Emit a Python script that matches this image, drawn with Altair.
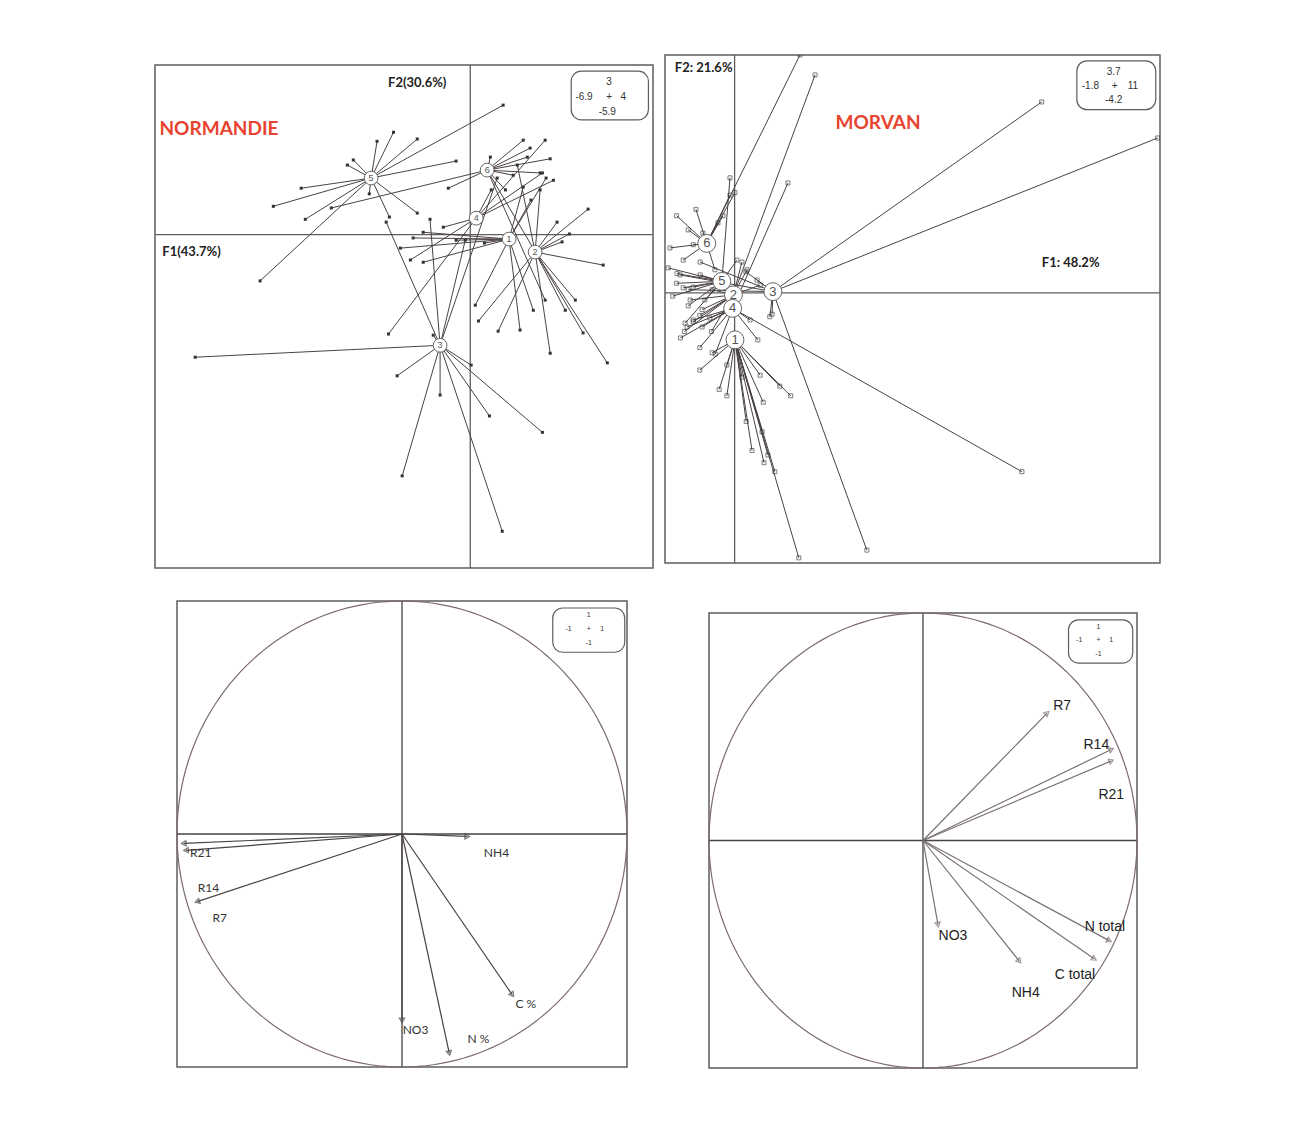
import altair as alt
import pandas as pd

# ======================= NORMANDIE (top-left) =======================
TL_X_DOMAIN = [-6.9, 4.0]
TL_Y_DOMAIN = [-5.9, 3.0]
TL_CENT_ID = ["1", "2", "3", "4", "5", "6"]
TL_CENT_X = [0.85, 1.42, -0.66, 0.13, -2.17, 0.37]
TL_CENT_Y = [-0.08, -0.31, -1.96, 0.29, 1.00, 1.14]

TL_PT_GROUP = (["5"] * 14 + ["6"] * 12 + ["4"] * 7 + ["1"] * 12 + ["2"] * 13 + ["3"] * 13)
TL_PT_X = [
    -1.68, -2.04, -1.16, -2.56, -2.69, -3.70, -4.31, -3.61, -2.21, -1.77, -1.16, -4.60, 0.72, -0.31,
    1.16, 1.31, 1.25, 1.75, 0.44, 0.94, -0.48, -3.04, 1.53, 0.77, 1.64, 2.47,
    1.58, 1.64, 1.82, -0.59, -1.79, 0.46, -1.31,
    -1.03, -1.25, -1.53, -1.03, 1.66, 1.16, 1.38, 1.33, -0.31, 0.11, 1.09, 0.31,
    2.58, 1.90, 2.01, 2.91, 2.17, 1.75, 3.00, 2.08, 0.18, 0.61, 1.53, 1.03, 2.30,
    -6.02, -1.60, -0.66, 0.42, 1.58, -1.49, 0.70, -0.81, 0.02, -1.84, -0.88, -0.11, 0.59,
]
TL_PT_Y = [
    1.81, 1.65, 1.69, 1.32, 1.23, 0.82, 0.50, 0.27, 0.72, 0.31, 0.38, -0.82, 2.29, 1.30,
    1.67, 1.53, 1.37, 1.34, 1.37, 1.05, 0.82, 0.47, 1.09, 0.79, -1.16, -1.74,
    1.09, 1.67, 0.96, 0.13, -1.76, 0.79, -0.45,
    0.04, -0.06, -0.24, -0.49, 1.00, 0.84, -1.34, 0.61, -0.10, -1.25, -1.69, -0.15,
    0.45, 0.22, -0.13, -0.54, 0.01, -2.10, -2.27, -1.34, -1.53, -1.71, 0.79, 1.23, -1.16,
    -2.17, -2.50, -2.84, -3.21, -3.50, -4.27, -5.25, -1.78, -2.31, 0.22, 0.27, -0.10, 1.00,
]
TL_TXT = ["F2(30.6%)", "F1(43.7%)"]
TL_TXT_X = [-1.16, -6.10]
TL_TXT_Y = [2.68, -0.31]
TL_TITLE = ["NORMANDIE"]
TL_TITLE_X = [-5.50]
TL_TITLE_Y = [1.87]
TL_BOX = [2.21, 3.90, 2.89, 2.03]  # x1, x2, y1, y2
TL_BOX_TXT = ["3", "-6.9", "4", "-5.9", "+"]
TL_BOX_TX = [3.04, 2.49, 3.35, 3.00, 3.04]
TL_BOX_TY = [2.70, 2.43, 2.43, 2.17, 2.44]

# ======================= MORVAN (top-right) =======================
TR_X_DOMAIN = [-1.8, 11.0]
TR_Y_DOMAIN = [-4.2, 3.7]
TR_CENT_ID = ["1", "2", "3", "4", "5", "6"]
TR_CENT_X = [0.01, -0.03, 0.99, -0.05, -0.33, -0.72]
TR_CENT_Y = [-0.73, -0.03, 0.02, -0.24, 0.18, 0.77]

TR_PT_GROUP = (["6"] * 13 + ["5"] * 12 + ["2"] * 11 + ["3"] * 10 + ["4"] * 11 + ["1"] * 17)
TR_PT_X = [
    1.69, -1.67, -1.20, -0.82, -0.43, -0.12, -1.33, -1.07, -0.51, 0.01, -1.50, -1.00, -0.30,
    -1.72, -1.33, -1.07, -1.28, -0.12, 0.06, -0.89, -1.49, -0.77, -1.50, -1.60, -1.20,
    2.08, 0.19, 0.32, -1.07, -1.15, -0.84, 0.66, -0.58, -0.90, -1.30, -0.60,
    7.94, 10.94, 3.42, 0.97, 0.91, 0.58, 0.29, -1.20, -1.41, -0.89,
    1.38, 7.43, 0.60, -0.84, -1.07, -1.23, -0.64, 0.40, -1.40, -0.90, -0.50,
    1.66, 1.04, 0.76, 0.71, 0.74, 1.17, 0.66, 0.19, -0.20, -0.58, 0.86, 1.45,
    -0.40, -0.20, 0.30, 0.45, -0.90,
]
TR_PT_Y = [
    3.70, 0.70, 0.98, 0.93, 1.09, 1.52, 0.51, 0.75, 0.36, 1.56, 1.20, 1.30, 1.20,
    0.39, 0.08, 0.09, -0.47, 1.79, 0.51, 0.28, 0.30, -0.11, 0.15, -0.05, -0.20,
    3.39, 0.48, 0.36, -0.45, -0.11, -0.26, 0.12, 0.05, -0.35, -0.60, -0.60,
    2.97, 2.41, -4.00, -0.33, -0.37, 0.20, 0.33, 0.05, 0.28, 0.48,
    1.71, -2.78, -0.73, -0.53, -0.42, -0.53, -0.39, -0.42, -0.70, -0.85, -0.95,
    -4.12, -2.78, -2.64, -2.16, -1.70, -1.45, -1.28, -1.31, -1.12, -0.93, -2.52, -1.60,
    -1.50, -1.60, -2.00, -2.45, -1.20,
]
TR_TXT = ["F2: 21.6%", "F1: 48.2%"]
TR_TXT_X = [-0.80, 8.69]
TR_TXT_Y = [3.50, 0.47]
TR_TITLE = ["MORVAN"]
TR_TITLE_X = [3.71]
TR_TITLE_Y = [2.64]
TR_BOX = [8.85, 10.89, 3.61, 2.85]
TR_BOX_TXT = ["3.7", "-1.8", "11", "-4.2", "+"]
TR_BOX_TX = [9.80, 9.20, 10.30, 9.80, 9.83]
TR_BOX_TY = [3.44, 3.22, 3.22, 3.00, 3.22]

# ======================= Correlation circles =======================
BL_VAR = ["R21", "R14", "R7", "NH4", "NO3", "N %", "C %"]
BL_VX = [-0.97, -0.96, -0.91, 0.29, 0.00, 0.21, 0.49]
BL_VY = [-0.04, -0.07, -0.29, -0.01, -0.80, -0.94, -0.69]
BL_LX = [-0.895, -0.86, -0.81, 0.42, 0.06, 0.34, 0.55]
BL_LY = [-0.08, -0.23, -0.36, -0.08, -0.84, -0.88, -0.73]

BR_VAR = ["R7", "R14", "R21", "NO3", "NH4", "C total", "N total"]
BR_VX = [0.58, 0.88, 0.88, 0.07, 0.45, 0.80, 0.87]
BR_VY = [0.56, 0.40, 0.35, -0.37, -0.53, -0.52, -0.44]
BR_LX = [0.65, 0.81, 0.88, 0.14, 0.48, 0.71, 0.85]
BR_LY = [0.59, 0.42, 0.20, -0.42, -0.67, -0.59, -0.38]

BL_BOX = [0.67, 0.99, 0.97, 0.78]
BR_BOX = [0.68, 0.98, 0.97, 0.78]
UNIT_BOX_TXT = ["1", "-1", "1", "-1", "+"]
BL_BOX_TX = [0.83, 0.74, 0.89, 0.83, 0.83]
BL_BOX_TY = [0.94, 0.88, 0.88, 0.82, 0.88]
BR_BOX_TX = [0.82, 0.73, 0.88, 0.82, 0.82]
BR_BOX_TY = [0.94, 0.88, 0.88, 0.82, 0.88]

FRAME = "#5e5e5e"
LINE = "#4a4242"
RED = "#e8432e"


def scales(xdom, ydom):
    def X(f, **kw):
        return alt.X(f, type="quantitative", axis=None,
                     scale=alt.Scale(domain=xdom, nice=False, zero=False), **kw)

    def Y(f, **kw):
        return alt.Y(f, type="quantitative", axis=None,
                     scale=alt.Scale(domain=ydom, nice=False, zero=False), **kw)
    return X, Y


def axis_lines(X, Y, color):
    zero = pd.DataFrame({"v": [0.0]})
    v = alt.Chart(zero).mark_rule(color=color, strokeWidth=1.3).encode(x=X("v"))
    h = alt.Chart(zero).mark_rule(color=color, strokeWidth=1.3).encode(y=Y("v"))
    return [v, h]


def scale_box(X, Y, box, txt, tx, ty, fsize, font):
    bdf = pd.DataFrame({"x1": [box[0]], "x2": [box[1]], "y1": [box[2]], "y2": [box[3]]})
    rect = alt.Chart(bdf).mark_rect(cornerRadius=10, fill="white", stroke=FRAME,
                                    strokeWidth=1.2).encode(
        x=X("x1"), x2="x2", y=Y("y1"), y2="y2")
    tdf = pd.DataFrame({"t": txt, "x": tx, "y": ty})
    text = alt.Chart(tdf).mark_text(fontSize=fsize, font=font, color="#333",
                                    baseline="middle", align="center").encode(
        x=X("x"), y=Y("y"), text="t:N")
    return [rect, text]


def star_panel(xdom, ydom, w, h, cid, cx, cy, gg, gx, gy, txt, tx, ty,
               title, tix, tiy, box, btxt, btx, bty, hollow, csize, cfont):
    X, Y = scales(xdom, ydom)
    cent = pd.DataFrame({"id": cid, "cx": cx, "cy": cy})
    pts = pd.DataFrame({"id": gg, "x": gx, "y": gy}).merge(cent, on="id")
    layers = axis_lines(X, Y, FRAME)
    layers.append(alt.Chart(pts).mark_rule(color=LINE, strokeWidth=1, clip=True).encode(
        x=X("x"), y=Y("y"), x2="cx", y2="cy"))
    if hollow:
        pm = alt.Chart(pts).mark_square(filled=False, size=16, color="#333",
                                        strokeWidth=0.9, clip=True)
    else:
        pm = alt.Chart(pts).mark_square(filled=True, size=9, color="#333", opacity=1, clip=True)
    layers.append(pm.encode(x=X("x"), y=Y("y")))
    layers.append(alt.Chart(cent).mark_point(shape="circle", filled=True, fill="white",
                                             stroke="#666", strokeWidth=1, size=csize,
                                             opacity=1).encode(x=X("cx"), y=Y("cy")))
    layers.append(alt.Chart(cent).mark_text(fontSize=cfont, font="Liberation Sans",
                                            color="#555", baseline="middle").encode(
        x=X("cx"), y=Y("cy"), text="id:N"))
    tdf = pd.DataFrame({"t": txt, "x": tx, "y": ty})
    layers.append(alt.Chart(tdf).mark_text(fontSize=13, font="Lato", fontWeight="bold",
                                           color="#222", baseline="middle").encode(
        x=X("x"), y=Y("y"), text="t:N"))
    tidf = pd.DataFrame({"t": title, "x": tix, "y": tiy})
    layers.append(alt.Chart(tidf).mark_text(fontSize=19, font="Lato", fontWeight="bold",
                                            color=RED, baseline="middle").encode(
        x=X("x"), y=Y("y"), text="t:N"))
    layers += scale_box(X, Y, box, btxt, btx, bty, 10, "Liberation Sans")
    return alt.layer(*layers).properties(
        width=w, height=h, view=alt.ViewBackground(stroke=FRAME, strokeWidth=1.5))


def circle_panel(w, h, var, vx, vy, lx, ly, box, btx, bty, acolor, font, fsize, tcolor):
    X, Y = scales([-1, 1], [-1, 1])
    layers = axis_lines(X, Y, "#444")
    circ = alt.Chart(alt.sequence(0, 362, 2, as_="a")).transform_calculate(
        cx="cos(datum.a*PI/180)", cy="sin(datum.a*PI/180)").mark_line(
        color="#7d6b6b", strokeWidth=1.2).encode(x=X("cx"), y=Y("cy"), order="a:Q")
    layers.append(circ)
    vdf = pd.DataFrame({"v": var, "x": vx, "y": vy, "lx": lx, "ly": ly, "o": [0.0] * len(var)})
    layers.append(alt.Chart(vdf).mark_rule(color=acolor, strokeWidth=1.2).encode(
        x=X("o"), y=Y("o"), x2="x", y2="y"))
    layers.append(alt.Chart(vdf).transform_calculate(
        ang="(atan2(datum.x, datum.y)*180/PI + 360) % 360").mark_point(
        shape="triangle-up", filled=False, color=acolor, size=28, strokeWidth=1.2).encode(
        x=X("x"), y=Y("y"), angle=alt.Angle("ang:Q", scale=None)))
    layers.append(alt.Chart(vdf).mark_text(font=font, fontSize=fsize, color=tcolor,
                                           baseline="middle").encode(
        x=X("lx"), y=Y("ly"), text="v:N"))
    layers += scale_box(X, Y, box, UNIT_BOX_TXT, btx, bty, 7, "Liberation Sans")
    return alt.layer(*layers).properties(
        width=w, height=h, view=alt.ViewBackground(stroke=FRAME, strokeWidth=1.5))


def spacer(w, h):
    return alt.Chart(pd.DataFrame({"v": [0]})).mark_point(opacity=0, size=0).encode(
        x=alt.value(0), y=alt.value(0)).properties(
        width=w, height=h, view=alt.ViewBackground(stroke="transparent"))


tl = star_panel(TL_X_DOMAIN, TL_Y_DOMAIN, 498, 503, TL_CENT_ID, TL_CENT_X, TL_CENT_Y,
                TL_PT_GROUP, TL_PT_X, TL_PT_Y, TL_TXT, TL_TXT_X, TL_TXT_Y,
                TL_TITLE, TL_TITLE_X, TL_TITLE_Y, TL_BOX, TL_BOX_TXT, TL_BOX_TX, TL_BOX_TY,
                False, 190, 9)
tr = star_panel(TR_X_DOMAIN, TR_Y_DOMAIN, 495, 508, TR_CENT_ID, TR_CENT_X, TR_CENT_Y,
                TR_PT_GROUP, TR_PT_X, TR_PT_Y, TR_TXT, TR_TXT_X, TR_TXT_Y,
                TR_TITLE, TR_TITLE_X, TR_TITLE_Y, TR_BOX, TR_BOX_TXT, TR_BOX_TX, TR_BOX_TY,
                True, 320, 13)
bl = circle_panel(450, 466, BL_VAR, BL_VX, BL_VY, BL_LX, BL_LY, BL_BOX, BL_BOX_TX, BL_BOX_TY,
                  "#4a4242", "Lato", 12, "#333")
br = circle_panel(428, 455, BR_VAR, BR_VX, BR_VY, BR_LX, BR_LY, BR_BOX, BR_BOX_TX, BR_BOX_TY,
                  "#7a7070", "Liberation Sans", 14, "#222")

tl_wrap = alt.vconcat(spacer(1, 1), tl, spacing=6)
br_wrap = alt.vconcat(spacer(1, 1), br, spacing=6)
top_row = alt.hconcat(spacer(135, 1), tl_wrap, tr, spacing=8)
bottom_row = alt.hconcat(spacer(89, 1), bl, br_wrap, spacing=74)

chart = alt.vconcat(top_row, bottom_row, spacing=27).properties(
    padding={"left": 0, "top": 45, "right": 5, "bottom": 5},
    background="white",
).configure_view(stroke="transparent")

chart.save("out.html", embed_options={"renderer": "svg", "actions": False})
